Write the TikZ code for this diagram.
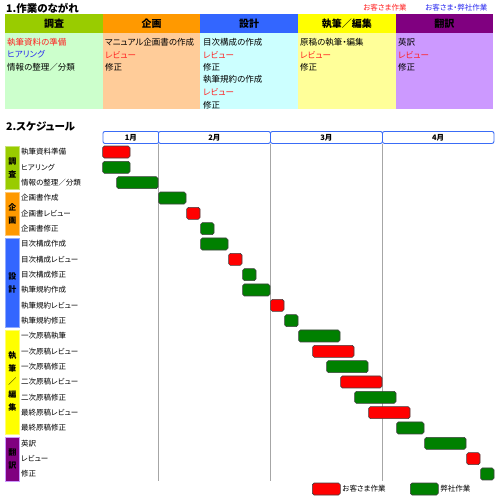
\documentclass[tikz,border=0pt]{standalone}
\usepackage{fontspec}
\setmainfont{Noto Sans CJK JP}[RawFeature=+palt]
\definecolor{cgreenH}{HTML}{99CC00}
\definecolor{corangeH}{HTML}{FF9900}
\definecolor{cblueH}{HTML}{3366FF}
\definecolor{cyellowH}{HTML}{FFFF00}
\definecolor{cpurpleH}{HTML}{800080}
\definecolor{cgreenB}{HTML}{CCFFCC}
\definecolor{corangeB}{HTML}{FFCC99}
\definecolor{cblueB}{HTML}{CCFFFF}
\definecolor{cyellowB}{HTML}{FFFF99}
\definecolor{cpurpleB}{HTML}{CC99FF}
\definecolor{cred}{HTML}{FF0000}
\definecolor{cgreen}{HTML}{008000}
\definecolor{ctxtred}{HTML}{FF2020}
\definecolor{ctxtblue}{HTML}{2828F0}
\definecolor{cmonth}{HTML}{3A6CF6}
\tikzset{
  fnt/.style={font=\fontsize{#1}{#1}\selectfont},
  title/.style={anchor=west, inner sep=0, font=\bfseries\fontsize{10.5}{11}\selectfont},
  hcell/.style={anchor=north west, inner sep=0, minimum width=97.6pt, minimum height=19pt, font=\bfseries\fontsize{10}{10}\selectfont},
  bcell/.style={anchor=north west, inner sep=0, minimum width=97.6pt, minimum height=76pt},
  btext/.style={anchor=west, inner sep=0, font=\fontsize{8.5}{8.5}\selectfont},
  month/.style={draw=cmonth, line width=0.9pt, rounded corners=2pt, fill=white, anchor=north west, inner sep=0, minimum height=12pt, font=\bfseries\fontsize{7.5}{7.5}\selectfont},
  gridline/.style={draw=black!35, line width=0.8pt},
  gbar/.style={draw=black!75, line width=0.6pt, rounded corners=1.8pt, anchor=west, inner sep=0, minimum height=12pt},
  rlabel/.style={anchor=west, inner sep=0, font=\fontsize{7.5}{7.5}\selectfont},
  catbar/.style={anchor=north west, inner sep=0, minimum width=14pt, line width=0.8pt},
  cattext/.style={inner sep=0, align=center, font=\bfseries\fontsize{8}{13}\selectfont},
  legtext/.style={anchor=west, inner sep=0, font=\fontsize{7.5}{7.5}\selectfont},
}
\begin{document}
\begin{tikzpicture}[x=1pt,y=-1pt]
\useasboundingbox[fill=white] (0,0) rectangle (500,500);
% titles
\node[title] (t1) at (6,8) {1.作業のながれ};
\node[legtext, text=ctxtred] (lk1) at (363,8) {お客さま作業};
\node[legtext, text=ctxtblue] (lk2) at (425,8) {お客さま・弊社作業};
% table header
\node[hcell, fill=cgreenH] (h1) at (5,14) {調査};
\node[hcell, fill=corangeH] (h2) at (102.6,14) {企画};
\node[hcell, fill=cblueH] (h3) at (200.2,14) {設計};
\node[hcell, fill=cyellowH] (h4) at (297.8,14) {執筆／編集};
\node[hcell, fill=cpurpleH] (h5) at (395.4,14) {翻訳};
% table body
\node[bcell, fill=cgreenB] (b1) at (5,33) {};
\node[bcell, fill=corangeB] (b2) at (102.6,33) {};
\node[bcell, fill=cblueB] (b3) at (200.2,33) {};
\node[bcell, fill=cyellowB] (b4) at (297.8,33) {};
\node[bcell, fill=cpurpleB] (b5) at (395.4,33) {};
% body texts
\node[btext, text=ctxtred] (x11) at (7,42) {執筆資料の準備};
\node[btext, text=ctxtblue] (x12) at (7,54.6) {ヒアリング};
\node[btext] (x13) at (7,67.2) {情報の整理／分類};
\node[btext] (x21) at (105,42) {マニュアル企画書の作成};
\node[btext, text=ctxtred] (x22) at (105,54.6) {レビュー};
\node[btext] (x23) at (105,67.2) {修正};
\node[btext] (x31) at (203,42) {目次構成の作成};
\node[btext, text=ctxtred] (x32) at (203,54.6) {レビュー};
\node[btext] (x33) at (203,67.2) {修正};
\node[btext] (x34) at (203,79.8) {執筆規約の作成};
\node[btext, text=ctxtred] (x35) at (203,92.4) {レビュー};
\node[btext] (x36) at (203,105) {修正};
\node[btext] (x41) at (300,42) {原稿の執筆・編集};
\node[btext, text=ctxtred] (x42) at (300,54.6) {レビュー};
\node[btext] (x43) at (300,67.2) {修正};
\node[btext] (x51) at (398,42) {英訳};
\node[btext, text=ctxtred] (x52) at (398,54.6) {レビュー};
\node[btext] (x53) at (398,67.2) {修正};
% schedule
\node[title] (t2) at (6,126) {2.スケジュール};
\node[month, minimum width=56pt] (m1) at (102.5,131) {1月};
\node[month, minimum width=112pt] (m2) at (158,131) {2月};
\node[month, minimum width=112pt] (m3) at (270,131) {3月};
\node[month, minimum width=111.5pt] (m4) at (382,131) {4月};
\draw[gridline] (m2.south west) -- ++(0,337);
\draw[gridline] (m3.south west) -- ++(0,337);
\draw[gridline] (m4.south west) -- ++(0,337);
% category bars
\node[catbar, fill=cgreenH, draw=cgreenH!55!white, minimum height=43pt] (c1) at (5,146) {};
\node[cattext] at (c1.center) {調\\査};
\node[catbar, fill=corangeH, draw=corangeH!55!white, minimum height=43pt] (c2) at (5,192) {};
\node[cattext] at (c2.center) {企\\画};
\node[catbar, fill=cblueH, draw=cblueH!55!white, minimum height=89pt] (c3) at (5,238) {};
\node[cattext] at (c3.center) {設\\計};
\node[catbar, fill=cyellowH, draw=cyellowH!55!white, minimum height=104pt] (c4) at (5,329.5) {};
\node[cattext] at (c4.center) {執\\筆\\／\\編\\集};
\node[catbar, fill=cpurpleH, draw=cpurpleB, minimum height=44pt] (c5) at (5,436.5) {};
\node[cattext] at (c5.center) {翻\\訳};
% row labels
\foreach \r/\t in {1/執筆資料準備,2/ヒアリング,3/情報の整理／分類,4/企画書作成,5/企画書レビュー,6/企画書修正,7/目次構成作成,8/目次構成レビュー,9/目次構成修正,10/執筆規約作成,11/執筆規約レビュー,12/執筆規約修正,13/一次原稿執筆,14/一次原稿レビュー,15/一次原稿修正,16/二次原稿レビュー,17/二次原稿修正,18/最終原稿レビュー,19/最終原稿修正,20/英訳,21/レビュー,22/修正}
  \node[rlabel] (lab\r) at (21,{152+(\r-1)*15.333}) {\t};
% bars
\foreach \r/\s/\e/\c in {1/0/2/cred,2/0/2/cgreen,3/1/4/cgreen,4/4/6/cgreen,5/6/7/cred,6/7/8/cgreen,7/7/9/cgreen,8/9/10/cred,9/10/11/cgreen,10/10/12/cgreen,11/12/13/cred,12/13/14/cgreen,13/14/17/cgreen,14/15/18/cred,15/16/19/cgreen,16/17/20/cred,17/18/21/cgreen,18/19/22/cred,19/21/23/cgreen,20/23/26/cgreen,21/26/27/cred,22/27/28/cgreen}
  \node[gbar, fill=\c, minimum width={14*(\e-\s)-0.6}] (bar\r) at ({102.3+14*\s},{152+(\r-1)*15.333}) {};
% legend
\node[gbar, fill=cred, minimum width=28pt] (lg1) at (312,489) {};
\node[legtext] (lgt1) at ([xshift=1.5pt]lg1.east) {お客さま作業};
\node[gbar, fill=cgreen, minimum width=28pt] (lg2) at (410,489) {};
\node[legtext] (lgt2) at ([xshift=1.5pt]lg2.east) {弊社作業};
\end{tikzpicture}
\end{document}
